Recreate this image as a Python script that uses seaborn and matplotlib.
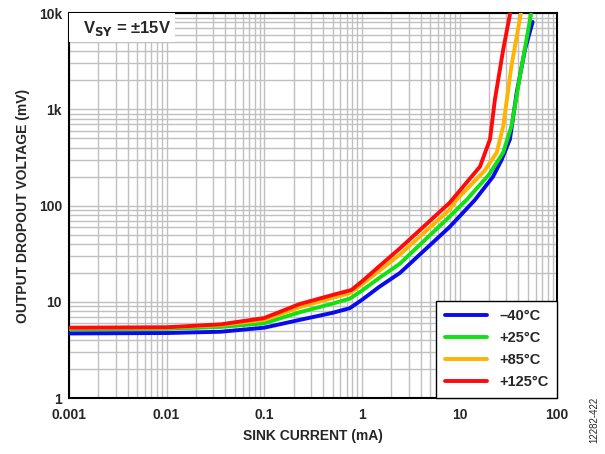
import pandas as pd
import matplotlib.pyplot as plt
import matplotlib.ticker as mticker
from matplotlib.patches import Rectangle
import seaborn as sns

# sink current (mA) and dropout voltage (mV) per temperature
i_m40 = [0.001, 0.01, 0.036, 0.1, 0.23, 0.5, 0.75, 1.0, 1.5, 2.45, 7.9, 14.4, 22, 27, 32.8, 38.5, 46.8, 56]
v_m40 = [4.7, 4.75, 4.9, 5.4, 6.5, 7.7, 8.6, 10.5, 14.3, 20, 60, 115, 200, 300, 490, 1500, 4200, 8100]

i_25 = [0.001, 0.01, 0.036, 0.1, 0.23, 0.5, 0.75, 1.0, 1.5, 2.45, 7.9, 11.8, 20, 27.9, 34, 41.5, 54]
v_25 = [5.2, 5.25, 5.5, 6.0, 7.8, 9.6, 10.8, 13.1, 17.7, 25, 77, 115, 210, 355, 670, 2200, 9800]

i_85 = [0.001, 0.01, 0.036, 0.1, 0.23, 0.5, 0.75, 1.0, 1.5, 2.45, 7.9, 9.3, 18, 24, 28, 34, 42.5]
v_85 = [5.35, 5.4, 5.75, 6.5, 8.8, 11.0, 12.3, 15.2, 21, 31, 91, 115, 230, 355, 670, 2830, 10000]

i_125 = [0.001, 0.01, 0.036, 0.1, 0.23, 0.5, 0.78, 1.0, 1.5, 2.45, 7.9, 16.2, 20.5, 23, 28, 33]
v_125 = [5.4, 5.45, 5.85, 6.8, 9.5, 11.8, 13.3, 16.3, 23.4, 36, 107, 255, 490, 1260, 4200, 10000]

labels = ["\u201340°C", "+25°C", "+85°C", "+125°C"]
colors = ["#0a0aee", "#11e011", "#ffb400", "#ff0a0a"]

frames = []
for lab, xs, ys in zip(labels, [i_m40, i_25, i_85, i_125], [v_m40, v_25, v_85, v_125]):
    frames.append(pd.DataFrame({"I": xs, "V": ys, "T": lab}))
df = pd.concat(frames, ignore_index=True)

sns.set_style("white")
plt.rcParams['font.family'] = ['Liberation Sans', 'DejaVu Sans']

fig = plt.figure(figsize=(6.05, 4.54), dpi=100)
ax = fig.add_axes([0.114, 0.123, 0.807, 0.848])

sns.lineplot(data=df, x="I", y="V", hue="T", palette=colors, hue_order=labels,
             sort=False, estimator=None, lw=2.8, ax=ax, zorder=3)

ax.set_xscale("log")
ax.set_yscale("log")
ax.set_xlim(0.001, 100)
ax.set_ylim(1, 10000)

ax.xaxis.set_minor_locator(mticker.LogLocator(base=10, subs=range(2, 10), numticks=20))
ax.yaxis.set_minor_locator(mticker.LogLocator(base=10, subs=range(2, 10), numticks=20))
ax.grid(True, which="both", color="#c0c0c0", lw=1.0)
ax.set_axisbelow(True)
ax.tick_params(which="both", length=0)
ax.tick_params(axis="x", pad=7)
ax.tick_params(axis="y", pad=5)

ax.set_xticks([0.001, 0.01, 0.1, 1, 10, 100])
ax.set_xticklabels(["0.001", "0.01", "0.1", "1", "10", "100"], fontweight="bold", fontsize=10)
ax.set_yticks([1, 10, 100, 1000, 10000])
ax.set_yticklabels(["1", "10", "100", "1k", "10k"], fontweight="bold", fontsize=10)

for s in ax.spines.values():
    s.set_color("black")
    s.set_linewidth(1.5)

ax.set_xlabel("SINK CURRENT (mA)", fontweight="bold", fontsize=10, labelpad=5)
ax.set_ylabel("OUTPUT DROPOUT VOLTAGE (mV)", fontweight="bold", fontsize=10, labelpad=6)

ax.add_patch(Rectangle((0, 0.925), 0.217, 0.075, transform=ax.transAxes,
                       facecolor="white", edgecolor="none", zorder=4))
ax.text(0.029, 0.961, "V$_{\\mathbf{SY}}$ = ±15V", transform=ax.transAxes, ha="left", va="center",
        fontsize=12, fontweight="bold", zorder=5)

leg = ax.legend(loc="lower right", frameon=True, fancybox=False,
                prop={"weight": "bold", "size": 10.5}, handlelength=2.9,
                borderaxespad=0, labelspacing=0.55, borderpad=0.6)
leg.get_frame().set_edgecolor("black")
leg.get_frame().set_linewidth(1.0)
leg.get_frame().set_alpha(1)
for h in leg.get_lines():
    h.set_linewidth(2.8)

fig.text(0.983, 0.075, "12282-422", rotation=90, fontsize=7, ha="center", va="center")

plt.savefig("out.png", dpi=100)
